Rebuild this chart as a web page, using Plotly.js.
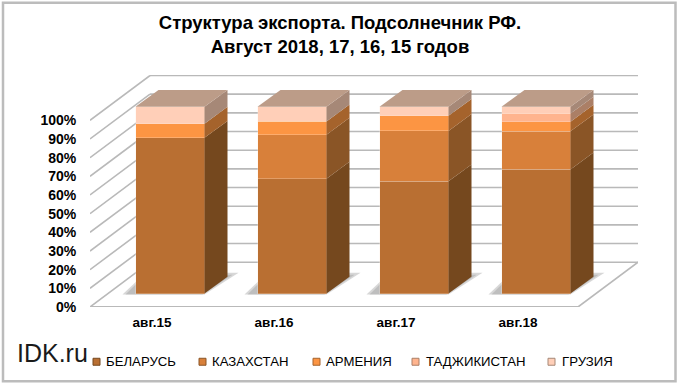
<!DOCTYPE html>
<html><head><meta charset="utf-8">
<script src="https://cdn.plot.ly/plotly-3.0.1.min.js"></script>
<style>html,body{margin:0;padding:0;background:#fff}</style></head>
<body><div id="chart" style="width:680px;height:385px"></div>
<script>
var categories = ['авг.15','авг.16','авг.17','авг.18'];
var seriesNames = ['БЕЛАРУСЬ','КАЗАХСТАН','АРМЕНИЯ','ТАДЖИКИСТАН','ГРУЗИЯ'];
var belarus    = [83.4, 61.5, 60.1, 66.5];
var kazakhstan = [0,    23.6, 27.0, 20.4];
var armenia    = [7.6,  7.1,  8.1,  5.1];
var tajikistan = [0,    0,    0,    4.4];
var georgia    = [9.0,  7.8,  4.8,  3.6];
var series = [belarus,kazakhstan,armenia,tajikistan,georgia];
var yTicks = [0,10,20,30,40,50,60,70,80,90,100];
var frontColors = ['#B96F32','#D8803A','#FC9543','#FFB48E','#FFCFB8'];
var sideColors  = ['#75481E','#8A5526','#A5632C','#AB7F66','#A68877'];
var topColor = '#BC9C88';

// pixel scale of the plot area
var L=90,R=638,T=74.5,B=307.5,W=R-L,H=B-T,PITCH=122,UNIT=1.875;
var x0px=152;
var xRange=[(L-x0px)/PITCH,(R-x0px)/PITCH], yRange=[0,H/UNIT];
var shiftX=18/PITCH, shiftY=13.5/UNIT;       // bar plane sits in from the axis plane
var barW=69/PITCH, depthX=23/PITCH, depthY=17/UNIT; // bar width and oblique depth
var wallX=60/PITCH, wallY=45/UNIT;           // oblique depth of the floor
var floorW=488/PITCH;

var traces=[];
function poly(xs,ys,color,xa,ya){
  traces.push({type:'scatter',mode:'lines',x:xs.concat([xs[0]]),y:ys.concat([ys[0]]),fill:'toself',
    fillcolor:color,line:{width:0,color:color},hoverinfo:'skip',showlegend:false,xaxis:xa,yaxis:ya});
}
// floor shadows, behind the bars
categories.forEach(function(c,i){
  var a=i+shiftX-barW/2+0,b=a+barW;
  [[13,0,34,-1],[10,-2,30,-3]].forEach(function(s){
    var l=a-s[0]/PITCH,r=b+s[1]/PITCH,y0=shiftY-0.5,y1=shiftY+(21+s[3]+1)/UNIT;
    poly([l,r,r+(s[2]+0)/PITCH,a+10/PITCH],[y0,y0,y1,y1],'rgba(150,150,150,0.38)','x','y');
  });
});
// front faces: stacked bars
series.forEach(function(v,k){
  traces.push({type:'bar',name:seriesNames[k],x:categories.map(function(c,i){return i;}),y:v,width:barW,
    marker:{color:frontColors[k],line:{color:'rgba(255,235,220,0.45)',width:0.6}},
    xaxis:'x2',yaxis:'y2',showlegend:false,hoverinfo:'skip'});
});
// side and top faces
categories.forEach(function(c,i){
  var r=i+barW/2,l=i-barW/2,base=0;
  series.forEach(function(v,k){
    if(v[i]>0){
      var t=base+v[i];
      poly([r,r+depthX,r+depthX,r],[base,base+depthY,t+depthY,t],sideColors[k],'x2','y2');
      base=t;
    }
  });
  poly([l,r,r+depthX,l+depthX],[base,base,base+depthY,base+depthY],topColor,'x2','y2');
});

var shapes=[], gc='#b9b9b9';
function gl(x0,y0,x1,y1,w){shapes.push({type:'line',xref:'x',yref:'y',x0:x0,y0:y0,x1:x1,y1:y1,layer:'below',line:{color:gc,width:w||1.6}});}
yTicks.forEach(function(t){
  gl(xRange[0],t,xRange[0]+wallX,t+wallY);
  gl(xRange[0]+wallX,t+wallY,xRange[1],t+wallY);
});
gl(xRange[0],0,xRange[0]+floorW,0,2);
gl(xRange[0]+floorW,0,xRange[1],wallY);
function px(p){return (p-L)/W;}
function py(p){return (B-p)/H;}
shapes.push({type:'rect',xref:'paper',yref:'paper',x0:px(3),x1:px(675.5),y0:py(2),y1:py(382),line:{color:'#bcbcbc',width:2.5},layer:'below'});

var textX=[106,212,326,426,562], swatchX=[93,199,313,412,548];
var annotations=[{xref:'paper',yref:'paper',x:px(15),y:py(354),xanchor:'left',yanchor:'middle',showarrow:false,text:'IDK.ru',
  font:{family:'Liberation Sans',size:25,color:'#1a1a1a'}}];
seriesNames.forEach(function(n,k){
  annotations.push({xref:'paper',yref:'paper',x:px(textX[k]),y:py(362),xanchor:'left',yanchor:'middle',showarrow:false,text:n,xshift:-2,
    font:{family:'Liberation Sans',size:13.2,color:'#000'}});
  shapes.push({type:'rect',xref:'paper',yref:'paper',x0:px(swatchX[k]),x1:px(swatchX[k]+7),y0:py(359),y1:py(366),
    fillcolor:frontColors[k],line:{color:sideColors[k],width:1}});
});

var axisCommon={showgrid:false,zeroline:false,showline:false};
var layout={width:680,height:385,margin:{l:L,r:680-R,t:T,b:385-B,pad:0},paper_bgcolor:'#fff',plot_bgcolor:'rgba(0,0,0,0)',
  barmode:'stack',showlegend:false,
  title:{text:'Структура экспорта. Подсолнечник РФ.<br>Август 2018, 17, 16, 15 годов',x:0.5,xref:'container',xanchor:'center',y:0.925,yref:'container',yanchor:'top',
    font:{family:'Liberation Sans',size:18.5,color:'#000',weight:700}},
  font:{family:'Liberation Sans'},
  xaxis:Object.assign({},axisCommon,{range:xRange,tickmode:'array',tickvals:[0,1,2,3],ticktext:categories,ticks:'outside',ticklen:3,tickcolor:'rgba(0,0,0,0)',
    tickfont:{family:'Liberation Sans',size:13.5,color:'#000',weight:700}}),
  yaxis:Object.assign({},axisCommon,{range:yRange,tickmode:'array',tickvals:yTicks,ticktext:yTicks.map(function(t){return t+'%';}),ticks:'outside',ticklen:10,tickcolor:'rgba(0,0,0,0)',
    tickfont:{family:'Liberation Sans',size:14,color:'#000',weight:700}}),
  xaxis2:Object.assign({},axisCommon,{overlaying:'x',range:[xRange[0]-(shiftX+0),xRange[1]-(shiftX+0)],visible:false}),
  yaxis2:Object.assign({},axisCommon,{overlaying:'y',range:[yRange[0]-shiftY,yRange[1]-shiftY],visible:false}),
  shapes:shapes,annotations:annotations};
Plotly.newPlot('chart',traces,layout,{displayModeBar:false,staticPlot:true});
</script></body></html>
